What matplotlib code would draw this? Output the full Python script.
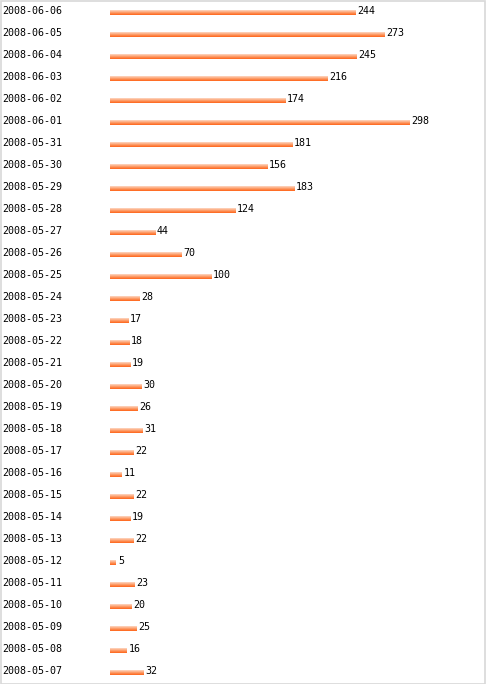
import numpy as np
import matplotlib.pyplot as plt
from matplotlib.colors import LinearSegmentedColormap
from matplotlib.patches import Rectangle

dates = ["2008-06-06", "2008-06-05", "2008-06-04", "2008-06-03", "2008-06-02",
         "2008-06-01", "2008-05-31", "2008-05-30", "2008-05-29", "2008-05-28",
         "2008-05-27", "2008-05-26", "2008-05-25", "2008-05-24", "2008-05-23",
         "2008-05-22", "2008-05-21", "2008-05-20", "2008-05-19", "2008-05-18",
         "2008-05-17", "2008-05-16", "2008-05-15", "2008-05-14", "2008-05-13",
         "2008-05-12", "2008-05-11", "2008-05-10", "2008-05-09", "2008-05-08",
         "2008-05-07"]
counts = [244, 273, 245, 216, 174, 298, 181, 156, 183, 124,
          44, 70, 100, 28, 17, 18, 19, 30, 26, 31,
          22, 11, 22, 19, 22, 5, 23, 20, 25, 16, 32]

W, H = 486, 684
fig = plt.figure(figsize=(W / 100, H / 100), dpi=100)

# axes in pixel-ish units: 1 count = 1 px, one row = 22 px
left_px = 110
ax = fig.add_axes([left_px / W, 0, (W - left_px) / W, 1])
top_px = 12.5
ax.axis("off")

cmap = LinearSegmentedColormap.from_list("bar", ["#fdd8c4", "#fd9c68", "#ff6418"])
grad = np.linspace(0, 1, 32).reshape(-1, 1)
bh = 5 / 22
font = dict(fontsize=7.2, family="DejaVu Sans Mono")

for i, (d, v) in enumerate(zip(dates, counts)):
    ax.imshow(grad, cmap=cmap, aspect="auto", interpolation="bilinear",
              extent=(0, v + 1, i + bh / 2, i - bh / 2))
    ax.text(v + 3, i - 0.06, str(v), va="center", ha="left", **font)
    ax.text(-108, i - 0.07, d, va="center", ha="left", **font)

ax.set_xlim(0, W - left_px)
ax.set_ylim((H - top_px) / 22, -top_px / 22)

fig.patches.append(Rectangle((0.5 / W, 0.5 / H), 1 - 1.5 / W, 1 - 1.5 / H,
                             transform=fig.transFigure, fill=False,
                             edgecolor="#d8d8d8", linewidth=1.2))

fig.savefig("out.png", dpi=100)
